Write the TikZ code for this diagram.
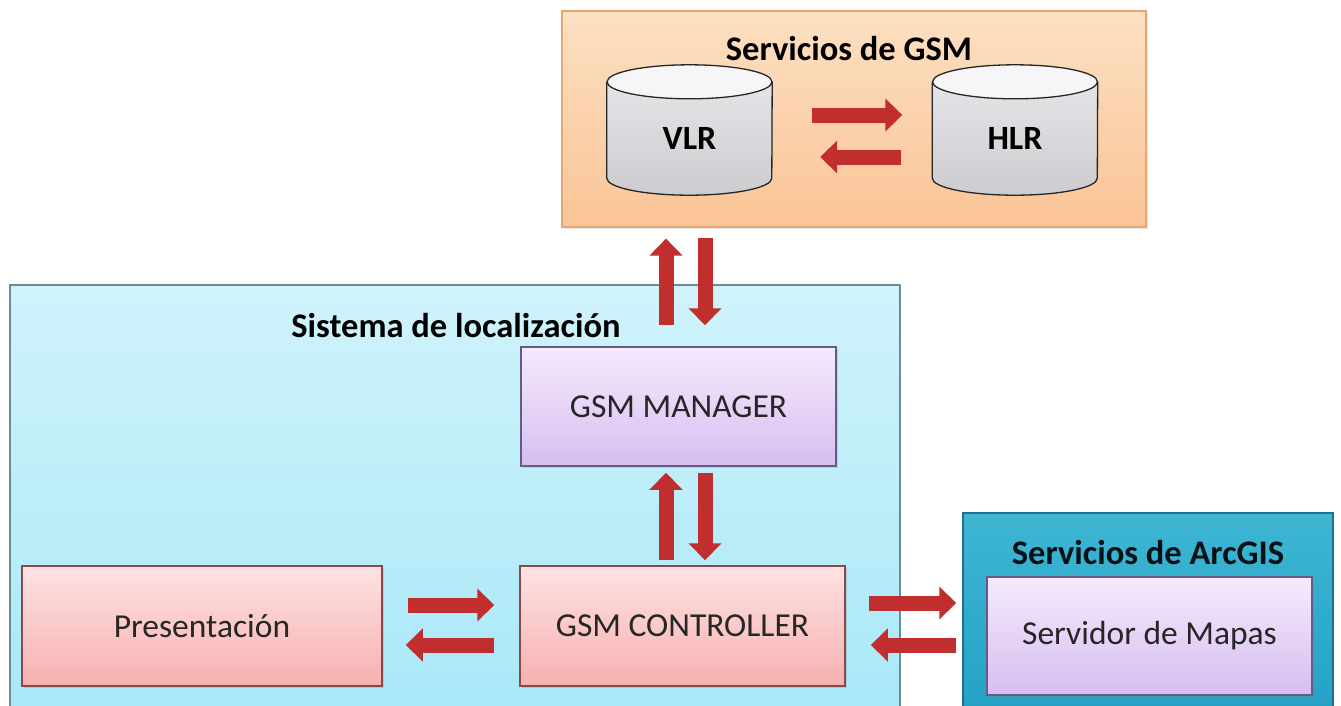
\documentclass[tikz,border=0pt]{standalone}
\usepackage{fontspec}
\setmainfont{Carlito}
\usetikzlibrary{arrows.meta,shadows}

\definecolor{orTop}{RGB}{252,224,194}
\definecolor{orBot}{RGB}{250,196,150}
\definecolor{orLine}{RGB}{228,168,112}
\definecolor{cyTop}{RGB}{208,243,251}
\definecolor{cyBot}{RGB}{168,232,248}
\definecolor{cyLine}{RGB}{105,140,150}
\definecolor{agTop}{RGB}{62,182,212}
\definecolor{agBot}{RGB}{36,160,196}
\definecolor{agLine}{RGB}{30,112,140}
\definecolor{puTop}{RGB}{246,234,252}
\definecolor{puBot}{RGB}{214,190,240}
\definecolor{puLine}{RGB}{100,92,132}
\definecolor{pkTop}{RGB}{255,226,226}
\definecolor{pkBot}{RGB}{246,176,176}
\definecolor{pkLine}{RGB}{140,72,72}
\definecolor{cylTop}{RGB}{246,246,248}
\definecolor{cylBody}{RGB}{222,222,226}
\definecolor{arrRed}{RGB}{192,46,46}
\definecolor{txtDark}{RGB}{38,38,38}

\begin{document}
\begin{tikzpicture}[x=1pt,y=-1pt,
  bodyfont/.style={font=\fontsize{33.5}{38}\selectfont, text=txtDark},
  titlefont/.style={font=\fontsize{34.5}{38}\selectfont\bfseries, text=black},
  container/.style={rectangle, line width=1.2pt, inner sep=0pt},
  innerbox/.style={rectangle, line width=1.5pt, inner sep=0pt,
    drop shadow={shadow xshift=2pt, shadow yshift=-2pt, opacity=0.25}, bodyfont},
  purplebox/.style={innerbox, draw=puLine, top color=puTop, bottom color=puBot},
  pinkbox/.style={innerbox, draw=pkLine, top color=pkTop, bottom color=pkBot},
  dbnode/.style={rectangle, inner sep=0pt, minimum width=165pt, minimum height=113pt,
    font=\fontsize{34}{38}\selectfont\bfseries, text=black},
  bigarrow/.style={draw=arrRed, line width=15pt,
    -{Triangle[length=17pt, width=32pt]}},
]
\useasboundingbox (0,0) rectangle (1341,705);
\fill[white] (0,0) rectangle (1341,705);

% ---- containers ----
\node[container, draw=cyLine, top color=cyTop, bottom color=cyBot,
      minimum width=890pt, minimum height=440pt] (loc) at (455,505) {};
\node[container, draw=orLine, top color=orTop, bottom color=orBot,
      minimum width=584pt, minimum height=216pt,
      drop shadow={shadow xshift=2pt, shadow yshift=-2pt, opacity=0.2}] (gsm) at (854,119) {};
\node[container, draw=agLine, top color=agTop, bottom color=agBot,
      minimum width=370pt, minimum height=210pt] (arc) at (1148,618) {};

% ---- titles ----
\node[titlefont] (gsmtitle) at (849,49) {Servicios de GSM};
\node[titlefont] (loctitle) at (456,326) {Sistema de localización};
\node[titlefont, text=black!85!agLine] (arctitle) at (1148,553) {Servicios de ArcGIS};

% ---- databases ----
\newcommand{\dbshape}[1]{%
  \fill[top color=cylBody!80!white, bottom color=cylBody!92!black]
    (#1.north west) -- ([yshift=17pt]#1.south west)
    arc[start angle=180, end angle=360, x radius=82.5pt, y radius=17pt]
    -- (#1.north east) -- cycle;
  \draw[line width=1.3pt, black!85]
    (#1.north west) -- ([yshift=17pt]#1.south west)
    arc[start angle=180, end angle=360, x radius=82.5pt, y radius=17pt]
    -- (#1.north east);
  \draw[line width=1.3pt, black!85, fill=cylTop]
    (#1.north) ellipse [x radius=82.5pt, y radius=17pt];
}
\node[dbnode] (vlr) at (689.5,138.5) {};
\dbshape{vlr}
\node[dbnode] (vlrtext) at (vlr.center) {VLR};
\node[dbnode] (hlr) at (1015,138.5) {};
\dbshape{hlr}
\node[dbnode] (hlrtext) at (hlr.center) {HLR};

% ---- components ----
\node[purplebox, minimum width=315pt, minimum height=119pt] (mgr) at (678.5,406.5) {GSM MANAGER};
\node[pinkbox, minimum width=360pt, minimum height=120pt] (pres) at (202,626) {Presentación};
\node[pinkbox, minimum width=325pt, minimum height=120pt] (ctrl) at (682.5,626) {GSM CONTROLLER};
\node[purplebox, minimum width=325pt, minimum height=118pt] (map) at (1149.5,636) {\raisebox{-5pt}{Servidor de Mapas}};

% ---- arrows: VLR <-> HLR ----
\draw[bigarrow, shorten <=40pt, shorten >=30pt]
  ([yshift=23.5pt]vlr.east) -- ([yshift=23.5pt]hlr.west);
\draw[bigarrow, shorten <=31pt, shorten >=48pt]
  ([yshift=-18.5pt]hlr.west) -- ([yshift=-18.5pt]vlr.east);

% ---- arrows: GSM services <-> GSM MANAGER ----
\draw[bigarrow, shorten <=21pt, shorten >=11pt]
  ([xshift=-12.5pt]mgr.north) -- ([xshift=-12.5pt]mgr.north |- gsm.south);
\draw[bigarrow, shorten <=10pt, shorten >=21pt]
  ([xshift=26.5pt]mgr.north |- gsm.south) -- ([xshift=26.5pt]mgr.north);

% ---- arrows: GSM MANAGER <-> GSM CONTROLLER ----
\draw[bigarrow, shorten <=5pt, shorten >=6pt]
  ([xshift=-16.5pt]ctrl.north) -- ([xshift=-16.5pt]ctrl.north |- mgr.south);
\draw[bigarrow, shorten <=6pt, shorten >=5pt]
  ([xshift=22.5pt]ctrl.north |- mgr.south) -- ([xshift=22.5pt]ctrl.north);

% ---- arrows: Presentación <-> GSM CONTROLLER ----
\draw[bigarrow, shorten <=25pt, shorten >=25pt]
  ([yshift=21pt]pres.east) -- ([yshift=21pt]ctrl.west);
\draw[bigarrow, shorten <=25pt, shorten >=23pt]
  ([yshift=-19pt]ctrl.west) -- ([yshift=-19pt]pres.east);

% ---- arrows: GSM CONTROLLER <-> Servidor de Mapas ----
\draw[bigarrow, shorten <=23pt, shorten >=30pt]
  ([yshift=23pt]ctrl.east) -- ([yshift=23pt]ctrl.east -| map.west);
\draw[bigarrow, shorten <=30pt, shorten >=25pt]
  ([yshift=-19pt]ctrl.east -| map.west) -- ([yshift=-19pt]ctrl.east);
\end{tikzpicture}
\end{document}
